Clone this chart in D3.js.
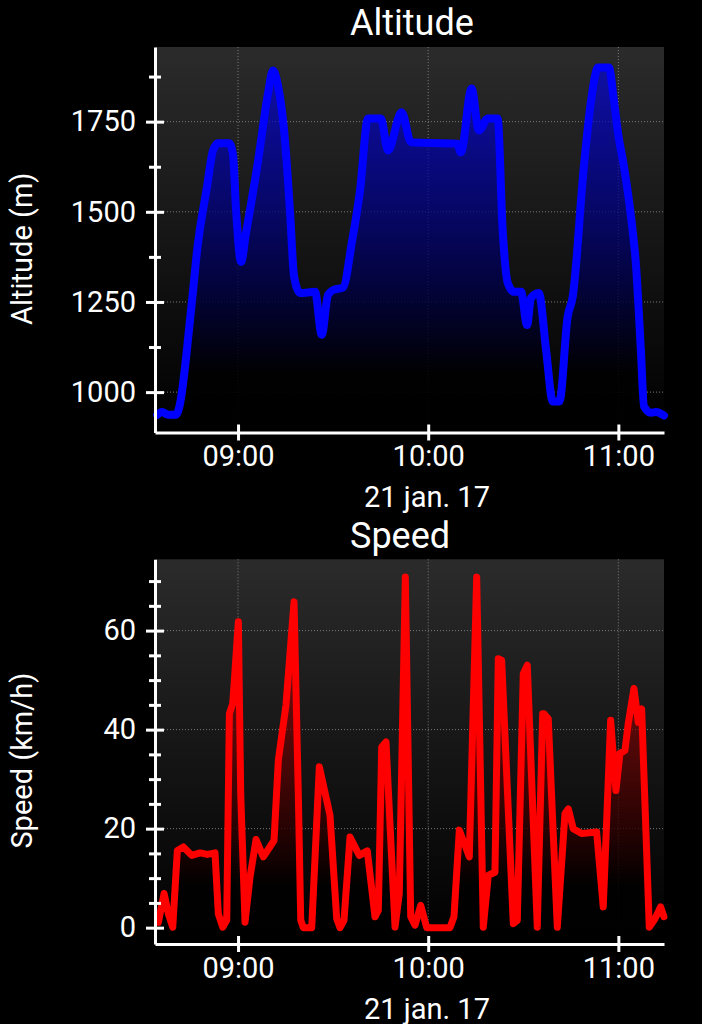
<!DOCTYPE html>
<html>
<head>
<meta charset="utf-8">
<script src="https://cdn.jsdelivr.net/npm/d3@7"></script>
<style>
  body { margin: 0; background: #000; }
  svg { display: block; }
  text { font-family: Roboto, sans-serif; fill: #fff; }
</style>
</head>
<body>
<div id="chart"></div>
<script>
const dateLabel = "21 jan. 17";
const altTitle = "Altitude";
const altAxisLabel = "Altitude (m)";
const speedTitle = "Speed";
const speedAxisLabel = "Speed (km/h)";

const altTimes = ["08:34:30", "08:36:00", "08:38:00", "08:40:24", "08:45:30", "08:47:06", "08:50:12",
  "08:52:06", "08:53:42", "08:57:12", "08:58:24", "08:59:24", "09:00:57", "09:02:30", "09:06:18",
  "09:09:30", "09:11:00", "09:12:36", "09:14:48", "09:16:24", "09:17:42", "09:19:36", "09:24:18",
  "09:26:24", "09:28:24", "09:30:00", "09:33:06", "09:36:00", "09:38:30", "09:41:00", "09:45:06",
  "09:47:18", "09:51:36", "09:54:36", "10:09:06", "10:10:18", "10:13:42", "10:16:00", "10:18:48",
  "10:21:54", "10:23:30", "10:25:06", "10:27:06", "10:29:18", "10:31:12", "10:32:24", "10:34:54",
  "10:37:12", "10:39:18", "10:41:24", "10:44:00", "10:45:36", "10:49:06", "10:51:24", "10:53:36",
  "10:57:00", "10:58:36", "10:59:54", "11:01:48", "11:04:00", "11:05:36", "11:07:06", "11:08:06",
  "11:10:18", "11:11:54", "11:14:24"];
const altValues = [937, 945, 937, 937, 1255, 1394, 1569,
  1670, 1690, 1690, 1660, 1503, 1361, 1440, 1640,
  1830, 1892, 1850, 1700, 1500, 1320, 1275, 1278,
  1159, 1270, 1283, 1290, 1420, 1560, 1759, 1759,
  1670, 1776, 1693, 1689, 1665, 1842, 1726, 1759,
  1759, 1450, 1303, 1278, 1278, 1186, 1261, 1275,
  1117, 974, 974, 1209, 1265, 1624, 1809, 1900,
  1900, 1809, 1718, 1624, 1486, 1348, 1117, 960,
  943, 945, 935];

const speedTimes = ["08:34:52", "08:36:40", "08:38:01", "08:39:24", "08:40:51", "08:42:44", "08:45:24",
  "08:48:01", "08:50:19", "08:52:44", "08:53:47", "08:55:10", "08:56:26", "08:57:16", "08:58:20",
  "09:00:06", "09:00:51", "09:02:12", "09:03:47", "09:05:41", "09:07:59", "09:11:21", "09:12:43",
  "09:15:08", "09:17:40", "09:19:01", "09:19:47", "09:20:36", "09:23:15", "09:25:39", "09:29:01",
  "09:31:08", "09:32:11", "09:33:26", "09:35:20", "09:38:16", "09:40:47", "09:43:13", "09:44:16",
  "09:45:20", "09:46:41", "09:49:32", "09:50:53", "09:52:47", "09:54:29", "09:55:50", "09:57:38",
  "09:59:32", "10:06:53", "10:08:08", "10:09:49", "10:12:58", "10:15:18", "10:17:23", "10:18:58",
  "10:21:04", "10:22:07", "10:23:11", "10:26:51", "10:28:07", "10:30:00", "10:31:16", "10:34:25",
  "10:36:07", "10:36:32", "10:37:53", "10:40:44", "10:43:09", "10:44:12", "10:45:46", "10:48:25",
  "10:53:09", "10:55:14", "10:57:34", "10:59:14", "11:00:30", "11:02:05", "11:03:07", "11:04:55",
  "11:06:17", "11:07:21", "11:09:45", "11:11:33", "11:13:20", "11:14:23"];
const speedValues = [1.1, 6.9, 2.8, 0.1, 15.6, 16.3, 14.6,
  15.1, 14.8, 15.1, 2.8, 0.1, 1.5, 43.2, 45.3,
  61.8, 27, 1.1, 10.2, 17.8, 14.3, 17.6, 33.8,
  45, 65.8, 27, 1.5, 0, 0, 32.5, 22.7,
  1.8, 0, 1.5, 18.3, 14.6, 15.5, 2.2, 3.5,
  36.5, 37.5, 0.1, 6.9, 70.8, 2.2, 0.5, 4.5,
  0, 0, 2.2, 19.7, 14.3, 70.8, 0.1, 10.6,
  11.2, 54.3, 54, 0.8, 1.5, 51.3, 53, 0.1,
  43.2, 43.2, 42.2, 0.1, 23, 24, 20, 19,
  19.3, 4.2, 41.9, 27.7, 35.2, 35.8, 41.2, 48.3,
  41.5, 44.2, 0.1, 1.8, 4.2, 2.2];

const altMajorTicks = [1000, 1250, 1500, 1750];
const altMinorTicks = [1125, 1375, 1625, 1875];
const speedMajorTicks = [0, 20, 40, 60];
const speedMinorTicks = [5, 10, 15, 25, 30, 35, 45, 50, 55, 65, 70];

(function() {
  const width = 702;
  const height = 1024;
  const left = 155;
  const right = 664;
  const parseTime = d3.timeParse("%H:%M:%S");
  const x = d3.scaleTime()
    .domain([parseTime("08:33:48"), parseTime("11:14:24")])
    .range([left, right]);

  const svg = d3.select("#chart")
    .append("svg")
    .attr("width", width)
    .attr("height", height);
  svg.append("rect")
    .attr("width", width)
    .attr("height", height)
    .attr("fill", "#000");
  const defs = svg.append("defs");

  drawPanel({
    id: "alt",
    top: 47,
    bottom: 432.5,
    yDomain: [888, 1957],
    times: altTimes,
    values: altValues,
    major: altMajorTicks,
    minor: altMinorTicks,
    title: altTitle,
    titleY: 35,
    axisLabel: altAxisLabel,
    color: "#0000ff",
    fillOpacity: 0.6,
    lineWidth: 8,
    curve: d3.curveMonotoneX
  });

  drawPanel({
    id: "speed",
    top: 559.3,
    bottom: 944,
    yDomain: [-3.3, 74.4],
    times: speedTimes,
    values: speedValues,
    major: speedMajorTicks,
    minor: speedMinorTicks,
    title: speedTitle,
    titleY: 548,
    axisLabel: speedAxisLabel,
    color: "#ff0000",
    fillOpacity: 0.35,
    lineWidth: 7,
    curve: d3.curveLinear
  });

  function drawPanel(p) {
    const y = d3.scaleLinear().domain(p.yDomain).range([p.bottom, p.top]);
    const data = p.times.map(function(t, i) {
      return { t: parseTime(t), v: p.values[i] };
    });
    const g = svg.append("g");

    // plot background
    const bg = defs.append("linearGradient")
      .attr("id", "bg-" + p.id)
      .attr("gradientUnits", "userSpaceOnUse")
      .attr("x1", 0).attr("x2", 0)
      .attr("y1", p.top).attr("y2", p.bottom);
    bg.append("stop").attr("offset", 0).attr("stop-color", "#2b2b2b");
    bg.append("stop").attr("offset", 1).attr("stop-color", "#000");
    g.append("rect")
      .attr("x", left)
      .attr("y", p.top)
      .attr("width", right - left)
      .attr("height", p.bottom - p.top)
      .attr("fill", "url(#bg-" + p.id + ")");

    // dotted grid
    const grid = g.append("g")
      .attr("stroke", "#7a7a7a")
      .attr("stroke-width", 1)
      .attr("stroke-dasharray", "1,2");
    grid.selectAll(".hgrid")
      .data(p.major)
      .enter().append("line")
      .attr("x1", left).attr("x2", right)
      .attr("y1", y).attr("y2", y);
    grid.selectAll(".vgrid")
      .data(x.ticks(d3.timeHour.every(1)))
      .enter().append("line")
      .attr("x1", x).attr("x2", x)
      .attr("y1", p.top).attr("y2", p.bottom);

    // area under the line, fading to black
    const fill = defs.append("linearGradient")
      .attr("id", "fill-" + p.id)
      .attr("gradientUnits", "userSpaceOnUse")
      .attr("x1", 0).attr("x2", 0)
      .attr("y1", p.top).attr("y2", p.bottom);
    fill.append("stop").attr("offset", 0).attr("stop-color", p.color).attr("stop-opacity", p.fillOpacity);
    fill.append("stop").attr("offset", 0.85).attr("stop-color", "#000").attr("stop-opacity", 0.9);
    fill.append("stop").attr("offset", 1).attr("stop-color", "#000").attr("stop-opacity", 1);

    const area = d3.area()
      .x(function(d) { return x(d.t); })
      .y0(p.bottom)
      .y1(function(d) { return y(d.v); })
      .curve(p.curve);
    const line = d3.line()
      .x(function(d) { return x(d.t); })
      .y(function(d) { return y(d.v); })
      .curve(p.curve);

    g.append("path").datum(data)
      .attr("d", area)
      .attr("fill", "url(#fill-" + p.id + ")");
    g.append("path").datum(data)
      .attr("d", line)
      .attr("fill", "none")
      .attr("stroke", p.color)
      .attr("stroke-width", p.lineWidth)
      .attr("stroke-linejoin", "round")
      .attr("stroke-linecap", "round");

    // y axis
    const yMinor = g.append("g")
      .attr("transform", "translate(" + left + ",0)")
      .call(d3.axisLeft(y).tickValues(p.minor).tickSize(6).tickFormat(""));
    yMinor.select(".domain").remove();
    yMinor.selectAll(".tick line").attr("x1", 6);

    const yAxis = g.append("g")
      .attr("transform", "translate(" + left + ",0)")
      .call(d3.axisLeft(y)
        .tickValues(p.major)
        .tickFormat(d3.format("d"))
        .tickSize(9)
        .tickPadding(10)
        .tickSizeOuter(0));
    yAxis.selectAll(".tick line").attr("x1", 9);

    // x axis
    const xAxis = g.append("g")
      .attr("transform", "translate(0," + p.bottom + ")")
      .call(d3.axisBottom(x)
        .ticks(d3.timeHour.every(1))
        .tickFormat(d3.timeFormat("%H:%M"))
        .tickSize(8)
        .tickPadding(5)
        .tickSizeOuter(0));
    xAxis.selectAll(".tick line").attr("y1", -8);

    [yMinor, yAxis, xAxis].forEach(function(a) {
      a.attr("font-size", 29)
        .attr("font-family", "Roboto, sans-serif")
        .style("color", "#fff");
      a.selectAll("line").attr("stroke-width", 3);
      a.selectAll(".domain").attr("stroke-width", 3);
    });

    // titles
    svg.append("text")
      .attr("x", 350)
      .attr("y", p.titleY)
      .style("font-size", "36px")
      .text(p.title);
    svg.append("text")
      .attr("x", 364)
      .attr("y", p.bottom + 74.5)
      .style("font-size", "29px")
      .text(dateLabel);
    svg.append("text")
      .attr("transform", "translate(32," + ((p.top + p.bottom) / 2 + 9) + ") rotate(-90)")
      .attr("text-anchor", "middle")
      .style("font-size", "29px")
      .text(p.axisLabel);
  }
})();
</script>
</body>
</html>
